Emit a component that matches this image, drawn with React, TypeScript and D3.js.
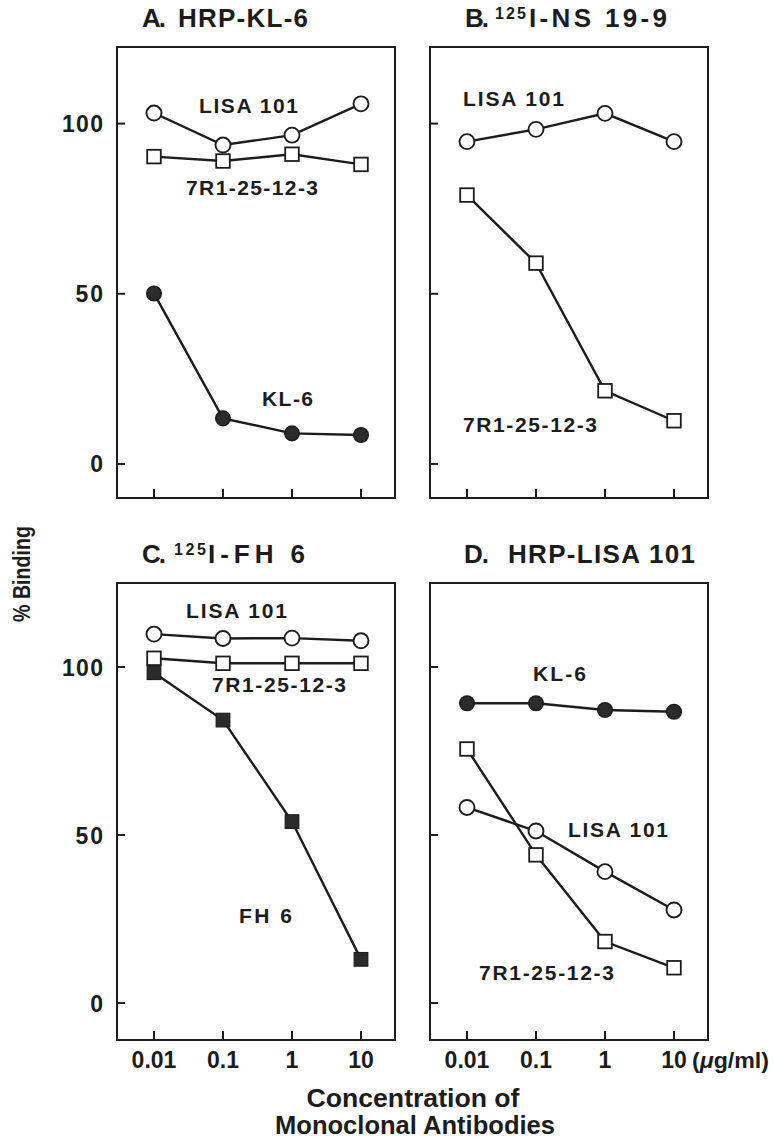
import React from "react";
import * as d3 from "d3";

// ---------- data ----------
const CONC = [0.01, 0.1, 1, 10];
const X_TICK_LABELS = ["0.01", "0.1", "1", "10"];
const Y_TICKS = [0, 50, 100];

// A. HRP-KL-6
const A_LISA101 = [103.1, 93.7, 96.6, 105.8];
const A_7R1 = [90.3, 89.0, 91.0, 88.0];
const A_KL6 = [50.1, 13.4, 9.0, 8.5];
// B. 125I-NS 19-9
const B_LISA101 = [94.7, 98.3, 103.0, 94.7];
const B_7R1 = [79.0, 59.0, 21.5, 12.7];
// C. 125I-FH 6
const C_LISA101 = [109.8, 108.5, 108.6, 107.8];
const C_7R1 = [102.6, 101.1, 101.1, 101.1];
const C_FH6 = [98.3, 84.2, 54.0, 13.0];
// D. HRP-LISA 101
const D_KL6 = [89.2, 89.2, 87.2, 86.7];
const D_7R1 = [75.6, 44.1, 18.3, 10.5];
const D_LISA101 = [58.2, 51.2, 39.1, 27.7];

// ---------- layout / style ----------
const FONT = "'Liberation Sans', Arial, Helvetica, sans-serif";
const INK = "#1c1c1c";
const BOX_W = 278;
const X_DOMAIN: [number, number] = [0.00291, 31.1];

type Marker = "circleOpen" | "circleFilled" | "squareOpen" | "squareFilled";
interface Series { values: number[]; marker: Marker }
interface Label { text: string; dx: number; dy: number; w: number }
interface TitleSeg { text: string; x: number; w: number; sup?: boolean }
interface PanelCfg {
  left: number; top: number; height: number;
  yDomain: [number, number];
  series: Series[];
  labels: Label[];
  title: TitleSeg[];
  titleBase: number;
  yLabels: boolean;
  xLabels: boolean;
  unit: boolean;
}

const PANELS: PanelCfg[] = [
  {
    left: 117, top: 47, height: 451, yDomain: [-10, 122.5],
    series: [
      { values: A_LISA101, marker: "circleOpen" },
      { values: A_7R1, marker: "squareOpen" },
      { values: A_KL6, marker: "circleFilled" },
    ],
    labels: [
      { text: "LISA 101", dx: 82, dy: 66, w: 99 },
      { text: "7R1-25-12-3", dx: 69, dy: 148, w: 132 },
      { text: "KL-6", dx: 145, dy: 359, w: 51 },
    ],
    title: [
      { text: "A.", x: 142, w: 24 },
      { text: "HRP-KL-6", x: 178, w: 130 },
    ],
    titleBase: 27, yLabels: true, xLabels: false, unit: false,
  },
  {
    left: 430, top: 47, height: 451, yDomain: [-10, 122.5],
    series: [
      { values: B_LISA101, marker: "circleOpen" },
      { values: B_7R1, marker: "squareOpen" },
    ],
    labels: [
      { text: "LISA 101", dx: 33, dy: 59, w: 101 },
      { text: "7R1-25-12-3", dx: 33, dy: 385, w: 134 },
    ],
    title: [
      { text: "B.", x: 465, w: 24 },
      { text: "125", x: 495, w: 31, sup: true },
      { text: "I-NS 19-9", x: 529, w: 138 },
    ],
    titleBase: 27, yLabels: false, xLabels: false, unit: false,
  },
  {
    left: 117, top: 583, height: 457, yDomain: [-11, 125],
    series: [
      { values: C_LISA101, marker: "circleOpen" },
      { values: C_7R1, marker: "squareOpen" },
      { values: C_FH6, marker: "squareFilled" },
    ],
    labels: [
      { text: "LISA 101", dx: 69, dy: 35, w: 101 },
      { text: "7R1-25-12-3", dx: 95, dy: 109, w: 134 },
      { text: "FH 6", dx: 122, dy: 340, w: 53 },
    ],
    title: [
      { text: "C.", x: 142, w: 24 },
      { text: "125", x: 174, w: 32, sup: true },
      { text: "I-FH 6", x: 208, w: 97 },
    ],
    titleBase: 563, yLabels: true, xLabels: true, unit: false,
  },
  {
    left: 430, top: 583, height: 457, yDomain: [-11, 125],
    series: [
      { values: D_KL6, marker: "circleFilled" },
      { values: D_LISA101, marker: "circleOpen" },
      { values: D_7R1, marker: "squareOpen" },
    ],
    labels: [
      { text: "KL-6", dx: 103, dy: 98, w: 53 },
      { text: "LISA 101", dx: 138, dy: 254, w: 100 },
      { text: "7R1-25-12-3", dx: 49, dy: 397, w: 135 },
    ],
    title: [
      { text: "D.", x: 464, w: 25 },
      { text: "HRP-LISA 101", x: 508, w: 187 },
    ],
    titleBase: 563, yLabels: false, xLabels: true, unit: true,
  },
];

function MarkerShape({ x, y, kind }: { x: number; y: number; kind: Marker }) {
  if (kind === "circleOpen")
    return <circle cx={x} cy={y} r={7.5} fill="#fff" stroke={INK} strokeWidth={1.9} />;
  if (kind === "circleFilled")
    return <circle cx={x} cy={y} r={7.3} fill="#2b2b2b" stroke={INK} strokeWidth={1.5} />;
  if (kind === "squareOpen")
    return <rect x={x - 6.8} y={y - 6.8} width={13.6} height={13.6} fill="#fff" stroke={INK} strokeWidth={1.8} />;
  return <rect x={x - 6.8} y={y - 6.8} width={13.6} height={13.6} fill="#2b2b2b" stroke={INK} strokeWidth={1.2} />;
}

function Panel({ cfg }: { cfg: PanelCfg }) {
  const x = d3.scaleLog().domain(X_DOMAIN).range([cfg.left, cfg.left + BOX_W]);
  const y = d3.scaleLinear().domain(cfg.yDomain).range([cfg.top + cfg.height, cfg.top]);
  const line = d3
    .line<number>()
    .x((_, i) => x(CONC[i]))
    .y((v) => y(v));
  const bottom = cfg.top + cfg.height;
  return (
    <g>
      {cfg.title.map((t, i) =>
        t.sup ? (
          <text key={i} x={t.x} y={cfg.titleBase - 8} fontSize={16} fontWeight="bold"
            textLength={t.w} lengthAdjust="spacing" fill={INK}>{t.text}</text>
        ) : (
          <text key={i} x={t.x} y={cfg.titleBase} fontSize={26} fontWeight="bold"
            textLength={t.w} lengthAdjust="spacing" fill={INK}>{t.text}</text>
        )
      )}
      <rect x={cfg.left} y={cfg.top} width={BOX_W} height={cfg.height}
        fill="none" stroke={INK} strokeWidth={2} />
      {Y_TICKS.map((t) => (
        <g key={t}>
          <line x1={cfg.left} x2={cfg.left + 8} y1={y(t)} y2={y(t)} stroke={INK} strokeWidth={2} />
          {cfg.yLabels && (
            <text x={cfg.left - 14} y={y(t) + 8.5} textAnchor="end" fontSize={23} fontWeight="bold"
              fill={INK} {...(String(t).length > 1 ? { textLength: String(t).length * 13.7, lengthAdjust: "spacing" } : {})}>
              {t}
            </text>
          )}
        </g>
      ))}
      {CONC.map((c, i) => (
        <g key={c}>
          <line x1={x(c)} x2={x(c)} y1={bottom} y2={bottom - 9} stroke={INK} strokeWidth={2} />
          {cfg.xLabels && (
            <text x={x(c)} y={1068} textAnchor="middle" fontSize={23} fontWeight="bold" fill={INK}>
              {X_TICK_LABELS[i]}
            </text>
          )}
        </g>
      ))}
      {cfg.unit && (
        <text x={692} y={1068} fontSize={22} fontWeight="bold" fill={INK}
          textLength={77} lengthAdjust="spacingAndGlyphs">
          (<tspan fontStyle="italic">μ</tspan>g/ml)
        </text>
      )}
      {cfg.series.map((s, si) => (
        <g key={si}>
          <path d={line(s.values) || ""} fill="none" stroke={INK} strokeWidth={2.4} />
          {s.values.map((v, i) => (
            <MarkerShape key={i} x={x(CONC[i])} y={y(v)} kind={s.marker} />
          ))}
        </g>
      ))}
      {cfg.labels.map((l, i) => (
        <text key={i} x={cfg.left + l.dx} y={cfg.top + l.dy} fontSize={21} fontWeight="bold"
          fill={INK} textLength={l.w} lengthAdjust="spacing">{l.text}</text>
      ))}
    </g>
  );
}

export default function App() {
  return (
    <svg width={775} height={1140} viewBox="0 0 775 1140"
      style={{ position: "absolute", left: 0, top: 0, background: "#fff" }}
      fontFamily={FONT}>
      <rect x={0} y={0} width={775} height={1140} fill="#fff" />
      {PANELS.map((p, i) => (
        <Panel key={i} cfg={p} />
      ))}
      <text transform="translate(30,574) rotate(-90)" textAnchor="middle" fontSize={23}
        fontWeight="bold" fill={INK} textLength={96} lengthAdjust="spacingAndGlyphs">% Binding</text>
      <text x={413} y={1107} textAnchor="middle" fontSize={25} fontWeight="bold" fill={INK}
        textLength={213} lengthAdjust="spacingAndGlyphs">Concentration of</text>
      <text x={415} y={1134} textAnchor="middle" fontSize={25} fontWeight="bold" fill={INK}
        textLength={280} lengthAdjust="spacingAndGlyphs">Monoclonal Antibodies</text>
    </svg>
  );
}
